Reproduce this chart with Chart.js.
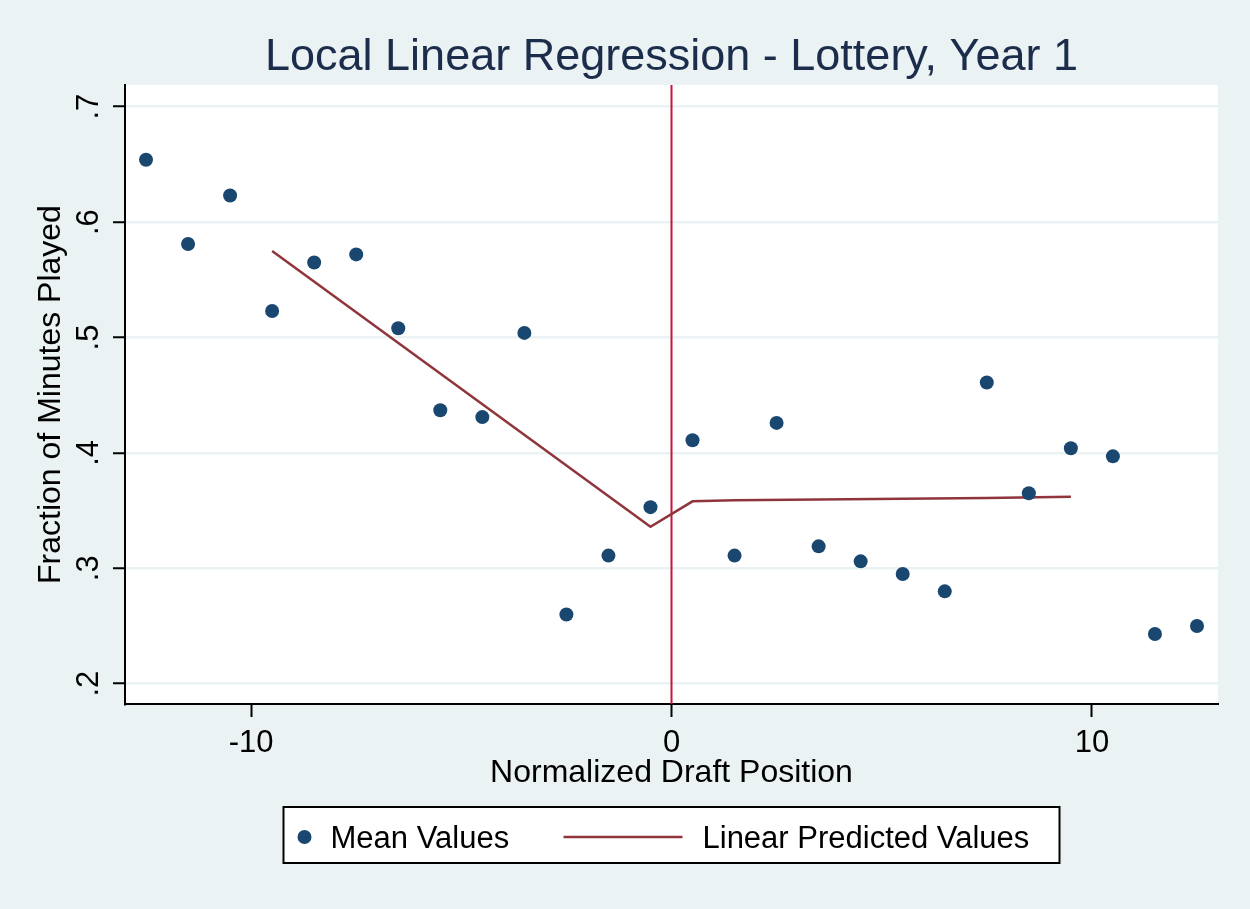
<!DOCTYPE html>
<html>
<head>
<meta charset="utf-8">
<script src="https://cdn.jsdelivr.net/npm/chart.js@4.4.1/dist/chart.umd.min.js"></script>
<style>
  html, body { margin: 0; padding: 0; background: #eaf2f3; }
  #wrap { width: 1250px; height: 909px; }
</style>
</head>
<body>
<div id="wrap"><canvas id="chart" width="1250" height="909"></canvas></div>
<script>
// mean values (bins at half positions)
const binX = [-12.5, -11.5, -10.5, -9.5, -8.5, -7.5, -6.5, -5.5, -4.5, -3.5, -2.5, -1.5, -0.5,
              0.5, 1.5, 2.5, 3.5, 4.5, 5.5, 6.5, 7.5, 8.5, 9.5, 10.5, 11.5, 12.5];
const meanY = [0.654, 0.581, 0.623, 0.523, 0.565, 0.572, 0.508, 0.437, 0.431, 0.504, 0.260, 0.311, 0.353,
               0.411, 0.311, 0.426, 0.319, 0.306, 0.295, 0.280, 0.461, 0.365, 0.404, 0.397, 0.243, 0.250];

// linear predicted values
const fitX = [-9.5, -0.5, 0.5, 1.5, 7.5, 9.5];
const fitY = [0.575, 0.336, 0.358, 0.359, 0.361, 0.362];

const xTicks = [-10, 0, 10];
const yTicks = [0.2, 0.3, 0.4, 0.5, 0.6, 0.7];
const xRange = [-13, 13];
const yRange = [0.1824, 0.7188];
const cutoff = 0;

const titleText = 'Local Linear Regression - Lottery, Year 1';
const xTitle = 'Normalized Draft Position';
const yTitle = 'Fraction of Minutes Played';
const seriesNames = ['Mean Values', 'Linear Predicted Values'];

const bg = '#eaf2f3';
const navy = '#1a476f';
const maroon = '#90353b';
const FONT = '"Liberation Sans", Arial, sans-serif';

function fmtY(v) {
    return String(Math.round(v * 10) / 10).replace(/^0/, '');
}

const pts = binX.map((x, i) => ({ x: x, y: meanY[i] }));
const fit = fitX.map((x, i) => ({ x: x, y: fitY[i] }));

const backdrop = {
    id: 'backdrop',
    beforeDraw(chart) {
        const ctx = chart.ctx, a = chart.chartArea;
        ctx.save();
        ctx.fillStyle = bg;
        ctx.fillRect(0, 0, chart.width, chart.height);
        ctx.fillStyle = '#ffffff';
        ctx.fillRect(a.left, a.top, a.right - a.left, a.bottom - a.top);
        ctx.restore();
    },
    beforeDatasetsDraw(chart) {
        const ctx = chart.ctx, a = chart.chartArea;
        const px = chart.scales.x.getPixelForValue(cutoff);
        ctx.save();
        ctx.strokeStyle = '#c8143c';
        ctx.lineWidth = 2;
        ctx.beginPath();
        ctx.moveTo(px, a.top);
        ctx.lineTo(px, a.bottom);
        ctx.stroke();
        ctx.restore();
    },
    afterDraw(chart) {
        const ctx = chart.ctx, a = chart.chartArea;
        const ys = chart.scales.y;
        ctx.save();
        // rotated y tick labels
        ctx.fillStyle = '#000';
        ctx.font = '31px ' + FONT;
        ctx.textAlign = 'center';
        ctx.textBaseline = 'alphabetic';
        ys.ticks.forEach(t => {
            const py = ys.getPixelForValue(t.value);
            ctx.save();
            ctx.translate(a.left - 27, py);
            ctx.rotate(-Math.PI / 2);
            ctx.fillText(fmtY(t.value), 0, 0);
            ctx.restore();
        });
        // legend box
        const cx = (a.left + a.right) / 2;
        const left = cx - 388, top = 807, w = 776, h = 56;
        ctx.fillStyle = '#fff';
        ctx.fillRect(left, top, w, h);
        ctx.strokeStyle = '#000';
        ctx.lineWidth = 2;
        ctx.strokeRect(left, top, w, h);
        const ds = chart.data.datasets;
        ctx.fillStyle = ds[0].backgroundColor;
        ctx.beginPath();
        ctx.arc(left + 21, 837, 7, 0, Math.PI * 2);
        ctx.fill();
        ctx.strokeStyle = ds[1].borderColor;
        ctx.lineWidth = 2.5;
        ctx.beginPath();
        ctx.moveTo(left + 280, 837);
        ctx.lineTo(left + 399, 837);
        ctx.stroke();
        ctx.fillStyle = '#000';
        ctx.textAlign = 'left';
        ctx.fillText(ds[0].label, left + 47, 848);
        ctx.fillText(ds[1].label, left + 419, 848);
        ctx.restore();
    }
};

const ctx = document.getElementById('chart').getContext('2d');
new Chart(ctx, {
    type: 'scatter',
    data: {
        datasets: [{
            label: seriesNames[0],
            data: pts,
            backgroundColor: navy,
            borderColor: navy,
            pointRadius: 7,
            pointBorderWidth: 0,
            order: 1
        }, {
            label: seriesNames[1],
            data: fit,
            showLine: true,
            borderColor: maroon,
            backgroundColor: maroon,
            borderWidth: 2.5,
            pointRadius: 0,
            fill: false,
            order: 2
        }]
    },
    options: {
        responsive: false,
        animation: false,
        layout: { padding: { top: 0, right: 32, bottom: 109, left: 0 } },
        plugins: {
            legend: { display: false },
            tooltip: { enabled: false },
            title: {
                display: true,
                text: titleText,
                fullSize: false,
                color: '#1c2d4c',
                font: { family: FONT, size: 45, weight: 'normal' },
                padding: { top: 31, bottom: 0 }
            }
        },
        scales: {
            x: {
                type: 'linear',
                min: xRange[0],
                max: xRange[1],
                afterBuildTicks: s => { s.ticks = xTicks.map(v => ({ value: v })); },
                afterFit: s => { s.height = 96; },
                border: { display: true, color: '#000', width: 2 },
                grid: {
                    drawOnChartArea: false,
                    drawTicks: true,
                    tickLength: 13,
                    tickColor: '#000',
                    tickWidth: 2
                },
                ticks: {
                    color: '#000',
                    padding: 8,
                    maxRotation: 0,
                    font: { family: FONT, size: 31 },
                    callback: v => String(v)
                },
                title: {
                    display: true,
                    text: xTitle,
                    color: '#000',
                    font: { family: FONT, size: 32 },
                    padding: { top: 0, bottom: 8 }
                }
            },
            y: {
                type: 'linear',
                min: yRange[0],
                max: yRange[1],
                afterBuildTicks: s => { s.ticks = yTicks.map(v => ({ value: v })); },
                afterFit: s => { s.width = 125; },
                border: { display: true, color: '#000', width: 2 },
                grid: {
                    color: bg,
                    lineWidth: 2.5,
                    drawTicks: true,
                    tickLength: 12,
                    tickColor: '#000',
                    tickWidth: 2
                },
                ticks: { display: false },
                title: {
                    display: true,
                    text: yTitle,
                    color: '#000',
                    font: { family: FONT, size: 32 },
                    padding: { top: 32, bottom: 0 }
                }
            }
        }
    },
    plugins: [backdrop]
});
</script>
</body>
</html>
